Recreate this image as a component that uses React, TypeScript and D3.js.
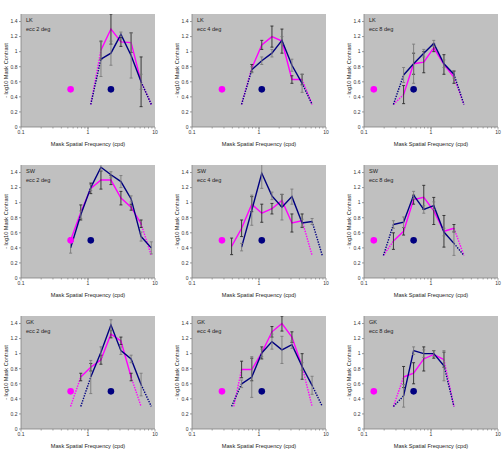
import React from 'react';
import * as d3 from 'd3';

// mask spatial frequencies (cpd), half-octave steps
const FREQS = [0.14, 0.195, 0.275, 0.39, 0.55, 0.78, 1.1, 1.56, 2.2, 3.1, 4.4, 6.2, 8.8];
const _ = null;

const SUBJECTS = ['LK', 'SW', 'GK'];
const ECCS = [2, 4, 8];
const Y_TICKS = [0, 0.2, 0.4, 0.6, 0.8, 1, 1.2, 1.4];
const X_TICKS = [0.1, 1, 10];
const FLOOR = 0.3; // where the dotted extrapolations end
const DOT_Y = 0.5;

// LK
const lk2Mag    = [_,_,_,_,_,_,_,1.02,1.30,1.13,1.12,0.60,_];
const lk2MagErr = [_,_,_,_,_,_,_,0.12,0.20,0.06,0.13,0.33,_];
const lk2Nav    = [_,_,_,_,_,_,_,0.90,0.98,1.23,0.95,0.60,_];
const lk2NavErr = [_,_,_,_,_,_,_,0.23,0.16,0.03,0.30,0.10,_];

const lk4Mag    = [_,_,_,_,_,0.78,1.09,1.20,1.14,0.63,0.63,_,_];
const lk4MagErr = [_,_,_,_,_,0.05,0.06,0.14,0.16,0.05,0.07,_,_];
const lk4Nav    = [_,_,_,_,_,0.76,0.88,0.98,1.15,0.82,0.58,_,_];
const lk4NavErr = [_,_,_,_,_,0.04,0.05,0.05,0.05,0.08,0.12,_,_];

const lk8Mag    = [_,_,_,0.43,0.84,0.86,1.05,0.83,0.66,_,_,_,_];
const lk8MagErr = [_,_,_,0.12,0.14,0.14,0.05,0.13,0.08,_,_,_,_];
const lk8Nav    = [_,_,_,0.69,0.84,0.98,1.11,0.84,0.70,_,_,_,_];
const lk8NavErr = [_,_,_,0.10,0.26,0.05,0.04,0.05,0.05,_,_,_,_];

// SW
const sw2Mag    = [_,_,_,_,0.50,0.87,1.19,1.30,1.30,1.06,0.94,0.72,_];
const sw2MagErr = [_,_,_,_,0.03,0.10,0.07,0.12,0.06,0.09,0.04,0.05,_];
const sw2Nav    = [_,_,_,_,0.40,0.84,1.20,1.47,1.37,1.28,1.05,0.55,0.40];
const sw2NavErr = [_,_,_,_,0.07,0.05,0.04,0.05,0.04,0.08,0.04,0.06,0.08];

const sw4Mag    = [_,_,_,0.42,0.66,0.98,0.86,0.92,1.03,0.73,0.76,_,_];
const sw4MagErr = [_,_,_,0.11,0.11,0.10,0.12,0.07,0.08,0.12,0.09,_,_];
const sw4Nav    = [_,_,_,_,0.41,0.90,1.39,1.09,0.94,1.08,0.73,0.75,_];
const sw4NavErr = [_,_,_,_,0.05,0.20,0.20,0.05,0.17,0.10,0.05,0.04,_];

const sw8Mag    = [_,_,0.49,0.62,1.04,1.07,0.89,0.62,0.66,_,_,_,_];
const sw8MagErr = [_,_,0.11,0.05,0.06,0.16,0.18,0.21,0.05,_,_,_,_];
const sw8Nav    = [_,_,0.71,0.74,1.10,0.91,0.96,0.61,0.46,_,_,_,_];
const sw8NavErr = [_,_,0.05,0.07,0.05,0.05,0.05,0.05,0.16,_,_,_,_];

// GK
const gk2Mag    = [_,_,_,_,_,0.69,0.82,0.92,1.26,1.17,0.69,_,_];
const gk2MagErr = [_,_,_,_,_,0.05,0.05,0.06,0.05,0.05,0.05,_,_];
const gk2Nav    = [_,_,_,_,_,_,0.69,1.02,1.38,1.04,0.93,0.59,_];
const gk2NavErr = [_,_,_,_,_,_,0.22,0.07,0.07,0.05,0.05,0.15,_];

const gk4Mag    = [_,_,_,_,0.79,0.79,1.01,1.29,1.40,1.22,0.83,_,_];
const gk4MagErr = [_,_,_,_,0.11,0.15,0.08,0.07,0.10,0.07,0.17,_,_];
const gk4Nav    = [_,_,_,_,0.60,0.69,1.01,1.16,1.05,1.12,0.83,0.58,_];
const gk4NavErr = [_,_,_,_,0.05,0.27,0.05,0.10,0.18,0.05,0.05,0.12,_];

const gk8Mag    = [_,_,_,0.69,0.74,0.93,0.99,0.92,_,_,_,_,_];
const gk8MagErr = [_,_,_,0.14,0.14,0.16,0.05,0.10,_,_,_,_,_];
const gk8Nav    = [_,_,_,0.44,1.04,1.00,1.00,0.84,_,_,_,_,_];
const gk8NavErr = [_,_,_,0.15,0.05,0.05,0.04,0.20,_,_,_,_,_];

// dotted tails [low end, high end] in cpd, per panel, row by row
const magTails = [[1.1, 8.8], [0.55, 6.2], [0.275, 3.1], [_, 8.8], [_, 6.2], [0.195, 3.1], [0.55, 6.2], [0.42, 6.2], [0.275, 2.2]];
const navTails = [[1.1, 8.8], [0.55, 6.2], [0.275, 3.1], [_, _], [_, 8.8], [0.195, 3.1], [0.78, 8.8], [0.39, 8.8], [0.275, 2.2]];
// single-point markers (cpd)
const magDots = [0.55, 0.28, 0.14, 0.55, 0.28, 0.14, 0.55, 0.28, 0.14];
const navDots = [2.2, 1.1, 0.55, 1.1, 1.1, 0.55, 2.2, 1.1, 0.55];

const magSeries = [lk2Mag, lk4Mag, lk8Mag, sw2Mag, sw4Mag, sw8Mag, gk2Mag, gk4Mag, gk8Mag];
const magErrs = [lk2MagErr, lk4MagErr, lk8MagErr, sw2MagErr, sw4MagErr, sw8MagErr, gk2MagErr, gk4MagErr, gk8MagErr];
const navSeries = [lk2Nav, lk4Nav, lk8Nav, sw2Nav, sw4Nav, sw8Nav, gk2Nav, gk4Nav, gk8Nav];
const navErrs = [lk2NavErr, lk4NavErr, lk8NavErr, sw2NavErr, sw4NavErr, sw8NavErr, gk2NavErr, gk4NavErr, gk8NavErr];

const W = 503;
const H = 449;
const COL_X = [21, 192, 364];
const ROW_Y = [14, 165, 316];
const PW = 134;
const PH = 113;
const MAGENTA = '#ff00ff';
const NAVY = '#000080';
const FONT = '"Liberation Sans", Arial, sans-serif';

type Vals = (number | null)[];

function Series({ vals, errs, tail, color, errColor, x, y }: any) {
  const pts = FREQS.map((f, i) => ({ f, v: vals[i] as number | null, e: errs[i] as number | null })).filter(p => p.v != null);
  const line = d3.line<any>().x(p => x(p.f)).y(p => y(p.v));
  const first = pts[0];
  const last = pts[pts.length - 1];
  return (
    <g>
      {tail[0] != null && (
        <path d={line([{ f: tail[0], v: FLOOR }, first])!} fill="none" stroke={color} strokeWidth={1.4} strokeDasharray="1.4,1.2" />
      )}
      {tail[1] != null && (
        <path d={line([last, { f: tail[1], v: FLOOR }])!} fill="none" stroke={color} strokeWidth={1.4} strokeDasharray="1.4,1.2" />
      )}
      <path d={line(pts)!} fill="none" stroke={color} strokeWidth={1.4} />
      {pts.filter(p => p.e != null).map((p, i) => {
        const cx = x(p.f);
        const y0 = y(p.v! - p.e!);
        const y1 = y(p.v! + p.e!);
        return (
          <g key={i} stroke={errColor} strokeWidth={0.9}>
            <line x1={cx} x2={cx} y1={y0} y2={y1} />
            <line x1={cx - 1.5} x2={cx + 1.5} y1={y0} y2={y0} />
            <line x1={cx - 1.5} x2={cx + 1.5} y1={y1} y2={y1} />
          </g>
        );
      })}
    </g>
  );
}

function Panel({ idx }: { idx: number }) {
  const row = Math.floor(idx / 3);
  const col = idx % 3;
  const x = d3.scaleLog().domain([0.1, 10]).range([0, PW]);
  const y = d3.scaleLinear().domain([0, 1.5]).range([PH, 0]);
  const minor: number[] = [];
  [0.1, 1].forEach(d => { for (let k = 1; k <= 10; k++) minor.push(d * k); });
  const clipId = `clip${idx}`;

  return (
    <g transform={`translate(${COL_X[col]},${ROW_Y[row]})`} fontFamily={FONT}>
      <defs>
        <clipPath id={clipId}><rect width={PW} height={PH} /></clipPath>
      </defs>
      <rect width={PW} height={PH} fill="#c0c0c0" />
      <line x1={0} x2={0} y1={0} y2={PH} stroke="#808080" strokeWidth={0.8} />
      <line x1={0} x2={PW} y1={PH} y2={PH} stroke="#808080" strokeWidth={0.8} />
      {Y_TICKS.map(t => (
        <g key={t}>
          <line x1={-2} x2={0} y1={y(t)} y2={y(t)} stroke="#808080" strokeWidth={0.8} />
          <text x={-3.5} y={y(t) + 1.8} fontSize={5} textAnchor="end" fill="#333">{String(+t.toFixed(1))}</text>
        </g>
      ))}
      {minor.map((t, i) => (
        <line key={i} x1={x(t)} x2={x(t)} y1={PH} y2={PH + (X_TICKS.includes(+t.toFixed(3)) ? 2.5 : 1.5)} stroke="#808080" strokeWidth={0.7} />
      ))}
      {X_TICKS.map(t => (
        <text key={t} x={x(t)} y={PH + 7} fontSize={5} textAnchor="middle" fill="#333">{String(t)}</text>
      ))}
      <text x={PW / 2} y={PH + 18.5} fontSize={5.6} textAnchor="middle" fill="#222">Mask Spatial Frequency (cpd)</text>
      <text transform={`translate(-13.5,${PH / 2}) rotate(-90)`} fontSize={5.6} textAnchor="middle" fill="#222">- log10 Mask Contrast</text>
      <text x={5} y={8} fontSize={5.6} fill="#222">{SUBJECTS[row]}</text>
      <text x={5} y={16.5} fontSize={5.6} fill="#222">{`ecc ${ECCS[col]} deg`}</text>
      <g clipPath={`url(#${clipId})`}>
        <Series vals={magSeries[idx] as Vals} errs={magErrs[idx]} tail={magTails[idx]} color={MAGENTA} errColor="#2a2a2a" x={x} y={y} />
        <Series vals={navSeries[idx] as Vals} errs={navErrs[idx]} tail={navTails[idx]} color={NAVY} errColor="#7a7a7a" x={x} y={y} />
        <circle cx={x(magDots[idx])} cy={y(DOT_Y)} r={3.3} fill={MAGENTA} />
        <circle cx={x(navDots[idx])} cy={y(DOT_Y)} r={3.3} fill={NAVY} />
      </g>
    </g>
  );
}

export default function App() {
  return (
    <svg width={W} height={H} style={{ position: 'absolute', left: 0, top: 0, background: '#fff' }}>
      {d3.range(9).map(i => <Panel key={i} idx={i} />)}
    </svg>
  );
}
